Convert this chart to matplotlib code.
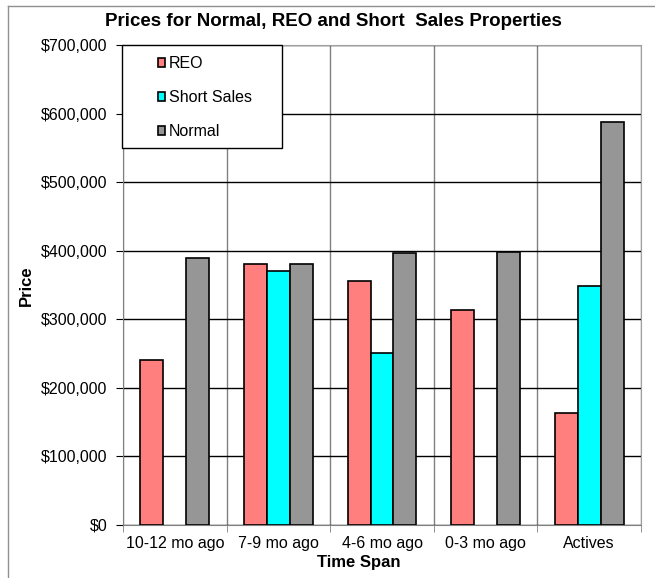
import numpy as np
import matplotlib
matplotlib.use("Agg")
import matplotlib.pyplot as plt
from matplotlib.patches import Rectangle
from matplotlib.ticker import FuncFormatter

plt.rcParams['font.family'] = ['Liberation Sans', 'DejaVu Sans']

categories = ['10-12 mo ago', '7-9 mo ago', '4-6 mo ago', '0-3 mo ago', 'Actives']
reo = [241000, 380000, 356000, 314000, 163000]
short_sales = [np.nan, 371000, 251000, np.nan, 348000]
normal = [389000, 380000, 397000, 398000, 587000]

series = [('REO', reo, '#ff7f7f'),
          ('Short Sales', short_sales, '#00ffff'),
          ('Normal', normal, '#969696')]

W, H = 655, 578
fig = plt.figure(figsize=(W / 100, H / 100), dpi=100)
ax = fig.add_axes([123 / W, 1 - 525 / H, (641 - 123) / W, (525 - 45) / H])

x = np.arange(len(categories))
w = 0.222
for i, (name, vals, col) in enumerate(series):
    ax.bar(x + (i - 1) * w, vals, w, color=col, edgecolor='black', linewidth=1.2,
           label=name, zorder=3)

ax.set_xlim(-0.5, len(categories) - 0.5)
ax.set_ylim(0, 700000)
ax.set_yticks(np.arange(0, 700001, 100000))
ax.yaxis.set_major_formatter(FuncFormatter(lambda v, p: '$' + format(int(v), ',')))
ax.set_xticks(x)
ax.set_xticklabels(categories)
ax.set_xticks(np.arange(-0.5, len(categories), 1), minor=True)

ax.grid(axis='y', color='black', linewidth=1.0, zorder=0)
ax.grid(axis='x', which='minor', color='#808080', linewidth=1.0, zorder=0)
ax.tick_params(axis='x', which='major', length=0, labelsize=11.5, pad=8)
ax.tick_params(axis='x', which='minor', length=5, color='#808080')
ax.tick_params(axis='y', length=5, labelsize=11.5, pad=6)

for s in ['top', 'right']:
    ax.spines[s].set_color('#a0a0a0')
ax.spines['left'].set_color('#808080')
ax.spines['bottom'].set_color('#808080')

fig.text(333 / W, 1 - 21 / H, 'Prices for Normal, REO and Short  Sales Properties',
         fontsize=13.5, fontweight='bold', ha='center', va='center')
fig.text(26 / W, 1 - 286 / H, 'Price', fontsize=12, fontweight='bold',
         rotation=90, ha='center', va='center')
fig.text(359 / W, 1 - 563 / H, 'Time Span', fontsize=12, fontweight='bold',
         ha='center', va='center')

# legend box drawn as a patch, entries on top of it
box = Rectangle((122 / W, 1 - 148 / H), (282 - 122) / W, (148 - 45) / H,
                transform=fig.transFigure, facecolor='white', edgecolor='black',
                linewidth=1.0, zorder=4, clip_on=False)
ax.add_patch(box)
leg = ax.legend(loc='upper left', bbox_to_anchor=(150 / W, 1 - 48 / H),
                bbox_transform=fig.transFigure, frameon=False, fontsize=11.5,
                handlelength=0.45, handleheight=0.55, handletextpad=0.25,
                labelspacing=1.2, borderpad=0.0)
leg.set_zorder(5)

# outer chart border
fig.add_artist(plt.Line2D([8 / W, 8 / W], [0, 1 - 6 / H], color='#909090', linewidth=1))
fig.add_artist(plt.Line2D([8 / W, 1], [1 - 6 / H, 1 - 6 / H], color='#909090', linewidth=1))

fig.savefig('out.png', dpi=100)
